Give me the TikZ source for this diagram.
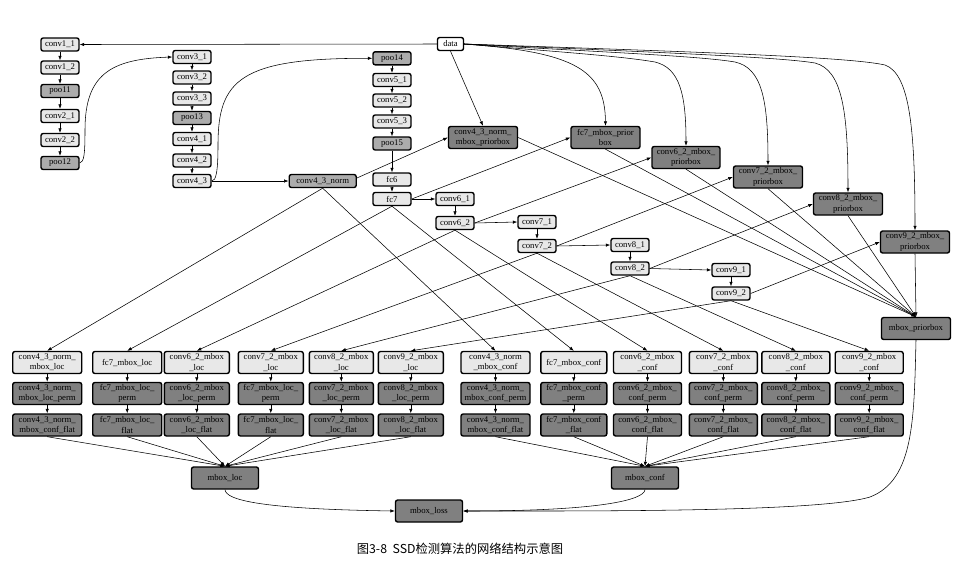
\documentclass[tikz,border=0pt]{standalone}
\usepackage{fontspec}
\setmainfont{Liberation Serif}
\newfontfamily\cjkfont{Noto Sans CJK SC}
\usetikzlibrary{arrows.meta}
\definecolor{boxlight}{RGB}{232,232,232}
\definecolor{boxmid}{RGB}{172,172,172}
\definecolor{boxdark}{RGB}{128,128,128}
\newcommand\nodefont{\fontsize{8.7}{10.3}\selectfont}
\tikzset{
  box/.style={draw=black, line width=1.4pt, rounded corners=2.2pt, inner sep=0pt, align=center, font=\nodefont},
  lite/.style={box, fill=boxlight},
  mid/.style={box, fill=boxmid},
  dark/.style={box, fill=boxdark},
  wht/.style={box, fill=white},
  sm/.style={minimum width=38pt, minimum height=13pt},
  tl/.style={minimum width=#1pt, minimum height=22pt},
  edge/.style={-{Latex[length=4.5pt,width=3.4pt]}, line width=0.55pt, black},
}
\begin{document}
\begin{tikzpicture}[x=1pt,y=-1pt]
\useasboundingbox (0,0) rectangle (978,566);
% column 1
\node[lite,sm] (c11) at (60,44.5) {conv1\_1};
\node[lite,sm] (c12) at (60,67.5) {conv1\_2};
\node[mid,sm] (p1) at (60,91) {poo11};
\node[lite,sm] (c21) at (60,116) {conv2\_1};
\node[lite,sm] (c22) at (60,140) {conv2\_2};
\node[mid,sm] (p2) at (60,163) {poo12};
% column 2
\node[lite,sm] (c31) at (192,57) {conv3\_1};
\node[lite,sm] (c32) at (192,77.5) {conv3\_2};
\node[lite,sm] (c33) at (192,98.5) {conv3\_3};
\node[mid,sm] (p3) at (192,118) {poo13};
\node[lite,sm] (c41) at (192,139) {conv4\_1};
\node[lite,sm] (c42) at (192,160.5) {conv4\_2};
\node[lite,sm] (c43) at (192,181) {conv4\_3};
% column 3
\node[mid,sm] (p4) at (392,58.3) {poo14};
\node[lite,sm] (c51) at (392,80) {conv5\_1};
\node[lite,sm] (c52) at (392,100.5) {conv5\_2};
\node[lite,sm] (c53) at (392,121.5) {conv5\_3};
\node[mid,sm] (p5) at (392,143.5) {poo15};
\node[lite,sm] (fc6) at (392,179.5) {fc6};
\node[lite,sm] (fc7) at (392,199) {fc7};
\node[mid,sm,minimum width=67pt] (c43n) at (322.7,181) {conv4\_3\_norm};
\node[wht,sm,minimum width=26pt] (data) at (450.5,44) {data};
% extra layers
\node[lite,sm] (c61) at (455,199) {conv6\_1};
\node[lite,sm] (c62) at (455,223) {conv6\_2};
\node[lite,sm] (c71) at (537,222) {conv7\_1};
\node[lite,sm] (c72) at (537,246) {conv7\_2};
\node[lite,sm] (c81) at (630,245) {conv8\_1};
\node[lite,sm] (c82) at (630,268.5) {conv8\_2};
\node[lite,sm] (c91) at (731,270) {conv9\_1};
\node[lite,sm] (c92) at (731,293.5) {conv9\_2};
% priorboxes
\node[dark,tl=69] (c43p) at (483,137.5) {conv4\_3\_norm\_\\mbox\_priorbox};
\node[dark,tl=69] (fcp) at (605.5,137.5) {fc7\_mbox\_prior\\box};
\node[dark,tl=68] (c6p) at (686,157.5) {conv6\_2\_mbox\_\\priorbox};
\node[dark,tl=69] (c7p) at (768,177) {conv7\_2\_mbox\_\\priorbox};
\node[dark,tl=69] (c8p) at (848,204) {conv8\_2\_mbox\_\\priorbox};
\node[dark,tl=69] (c9p) at (915,242) {conv9\_2\_mbox\_\\priorbox};
\node[dark,tl=69] (mbp) at (916,328.5) {mbox\_priorbox};
% row 1
\node[lite,tl=69] (l1) at (47.2,362.5) {conv4\_3\_norm\_\\mbox\_loc};
\node[lite,tl=69] (l2) at (127.2,362.5) {fc7\_mbox\_loc};
\node[lite,tl=65] (l3) at (196.8,362.5) {conv6\_2\_mbox\\\_loc};
\node[lite,tl=65] (l4) at (270.8,362.5) {conv7\_2\_mbox\\\_loc};
\node[lite,tl=64] (l5) at (341.3,362.5) {conv8\_2\_mbox\\\_loc};
\node[lite,tl=65] (l6) at (410.8,362.5) {conv9\_2\_mbox\\\_loc};
\node[lite,tl=69] (f1) at (495.5,362.5) {conv4\_3\_norm\\\_mbox\_conf};
\node[lite,tl=66] (f2) at (573.8,362.5) {fc7\_mbox\_conf};
\node[lite,tl=68] (f3) at (647.5,362.5) {conv6\_2\_mbox\\\_conf};
\node[lite,tl=68] (f4) at (723.3,362.5) {conv7\_2\_mbox\\\_conf};
\node[lite,tl=68] (f5) at (795.8,362.5) {conv8\_2\_mbox\\\_conf};
\node[lite,tl=68] (f6) at (869.2,362.5) {conv9\_2\_mbox\\\_conf};
% row 2
\node[dark,tl=69] (lp1) at (47.2,393.5) {conv4\_3\_norm\_\\mbox\_loc\_perm};
\node[dark,tl=69] (lp2) at (127.2,393.5) {fc7\_mbox\_loc\_\\perm};
\node[dark,tl=65] (lp3) at (196.8,393.5) {conv6\_2\_mbox\\\_loc\_perm};
\node[dark,tl=65] (lp4) at (270.8,393.5) {fc7\_mbox\_loc\_\\perm};
\node[dark,tl=64] (lp5) at (341.3,393.5) {conv7\_2\_mbox\\\_loc\_perm};
\node[dark,tl=65] (lp6) at (410.8,393.5) {conv8\_2\_mbox\\\_loc\_perm};
\node[dark,tl=69] (fp1) at (495.5,393.5) {conv4\_3\_norm\_\\mbox\_conf\_perm};
\node[dark,tl=66] (fp2) at (573.8,393.5) {fc7\_mbox\_conf\\\_perm};
\node[dark,tl=68] (fp3) at (647.5,393.5) {conv6\_2\_mbox\_\\conf\_perm};
\node[dark,tl=68] (fp4) at (723.3,393.5) {conv7\_2\_mbox\_\\conf\_perm};
\node[dark,tl=68] (fp5) at (795.8,393.5) {conv8\_2\_mbox\_\\conf\_perm};
\node[dark,tl=68] (fp6) at (869.2,393.5) {conv9\_2\_mbox\_\\conf\_perm};
% row 3
\node[dark,tl=69] (lf1) at (47.2,425) {conv4\_3\_norm\_\\mbox\_conf\_flat};
\node[dark,tl=69] (lf2) at (127.2,425) {fc7\_mbox\_loc\_\\flat};
\node[dark,tl=65] (lf3) at (196.8,425) {conv6\_2\_mbox\\\_loc\_flat};
\node[dark,tl=65] (lf4) at (270.8,425) {fc7\_mbox\_loc\_\\flat};
\node[dark,tl=64] (lf5) at (341.3,425) {conv7\_2\_mbox\\\_loc\_flat};
\node[dark,tl=65] (lf6) at (410.8,425) {conv8\_2\_mbox\\\_loc\_flat};
\node[dark,tl=69] (ff1) at (495.5,425) {conv4\_3\_norm\_\\mbox\_conf\_flat};
\node[dark,tl=66] (ff2) at (573.8,425) {fc7\_mbox\_conf\\\_flat};
\node[dark,tl=68] (ff3) at (647.5,425) {conv6\_2\_mbox\_\\conf\_flat};
\node[dark,tl=68] (ff4) at (723.3,425) {conv7\_2\_mbox\_\\conf\_flat};
\node[dark,tl=68] (ff5) at (795.8,425) {conv8\_2\_mbox\_\\conf\_flat};
\node[dark,tl=68] (ff6) at (869.2,425) {conv9\_2\_mbox\_\\conf\_flat};
% heads
\node[dark,tl=67] (mloc) at (225,478) {mbox\_loc};
\node[dark,tl=67] (mconf) at (645,478) {mbox\_conf};
\node[dark,tl=67] (mloss) at (429,511) {mbox\_loss};
\node[font=\cjkfont\fontsize{12.3}{14}\selectfont] (cap) at (460,549) {图3-8\ \ SSD检测算法的网络结构示意图};
% chains
\foreach \a/\b in {c11/c12,c12/p1,p1/c21,c21/c22,c22/p2,c31/c32,c32/c33,c33/p3,p3/c41,c41/c42,c42/c43,p4/c51,c51/c52,c52/c53,c53/p5,p5/fc6,fc6/fc7,c61/c62,c71/c72,c81/c82,c91/c92}
  \draw[edge] (\a.south) -- (\b.north);
\foreach \a/\b in {l1/lp1,l2/lp2,l3/lp3,l4/lp4,l5/lp5,l6/lp6,f1/fp1,f2/fp2,f3/fp3,f4/fp4,f5/fp5,f6/fp6,lp1/lf1,lp2/lf2,lp3/lf3,lp4/lf4,lp5/lf5,lp6/lf6,fp1/ff1,fp2/ff2,fp3/ff3,fp4/ff4,fp5/ff5,fp6/ff6}
  \draw[edge] (\a.south) -- (\b.north);
\foreach \a/\b in {fc7/c61,c62/c71,c72/c81,c82/c91,c43/c43n}
  \draw[edge] (\a.east) -- (\b.west);
\draw[edge] (data.west) -- (c11.east);
% long curves
\draw[edge] (p2.east) .. controls (84,162) and (85,155) .. (85,130) .. controls (85,75) and (110,59) .. (c31.west);
\draw[edge] (c43.east) .. controls (216,181) and (218,172) .. (218,145) .. controls (218,80) and (240,58) .. (p4.west);
% data to priorboxes
\draw[edge] (data.south) -- (c43p.north);
\draw[edge] (data.east) .. controls (575,52) and (605,70) .. (fcp.north);
\draw[edge] (data.east) .. controls (560,52) and (620,56) .. (655,62) .. controls (680,68) and (686,95) .. (c6p.north);
\draw[edge] (data.east) .. controls (600,52) and (700,56) .. (735,62) .. controls (762,68) and (768,100) .. (c7p.north);
\draw[edge] (data.east) .. controls (650,52) and (780,57) .. (815,63) .. controls (842,70) and (848,110) .. (c8p.north);
\draw[edge] (data.east) .. controls (700,52) and (850,57) .. (885,65) .. controls (910,74) and (915,130) .. (c9p.north);
% feature maps to priorboxes
\draw[edge] ([yshift=3pt]c43n.east) -- (c43p.west);
\draw[edge] (fc7.east) -- (fcp.west);
\draw[edge] (c62.east) -- (c6p.west);
\draw[edge] (c72.east) -- (c7p.west);
\draw[edge] (c82.east) -- (c8p.west);
\draw[edge] (c92.east) -- (c9p.west);
% priorboxes to mbox_priorbox
\draw[edge] (c43p.east) -- (mbp.north);
\foreach \a in {fcp,c6p,c7p,c8p,c9p}
  \draw[edge] (\a.south) -- (mbp.north);
% feature maps to loc / conf
\foreach \a/\b/\c in {c43n/l1/f1,fc7/l2/f2,c62/l3/f3,c72/l4/f4,c82/l5/f5,c92/l6/f6}{
  \draw[edge] (\a.south) -- (\b.north);
  \draw[edge] (\a.south) -- (\c.north);
}
% flats to concat
\foreach \a in {lf1,lf2,lf3,lf4,lf5,lf6}
  \draw[edge] (\a.south) -- (mloc.north);
\foreach \a in {ff1,ff2,ff3,ff4,ff5,ff6}
  \draw[edge] (\a.south) -- (mconf.north);
% to loss
\draw[edge] (mloc.south) .. controls (226,500) and (260,509) .. (mloss.west);
\draw[edge] (mconf.south) .. controls (644,500) and (600,511) .. (mloss.east);
\draw[edge] (mbp.south) .. controls (914,420) and (914,480) .. (870,497) .. controls (820,512) and (600,511) .. (mloss.east);
\end{tikzpicture}
\end{document}
